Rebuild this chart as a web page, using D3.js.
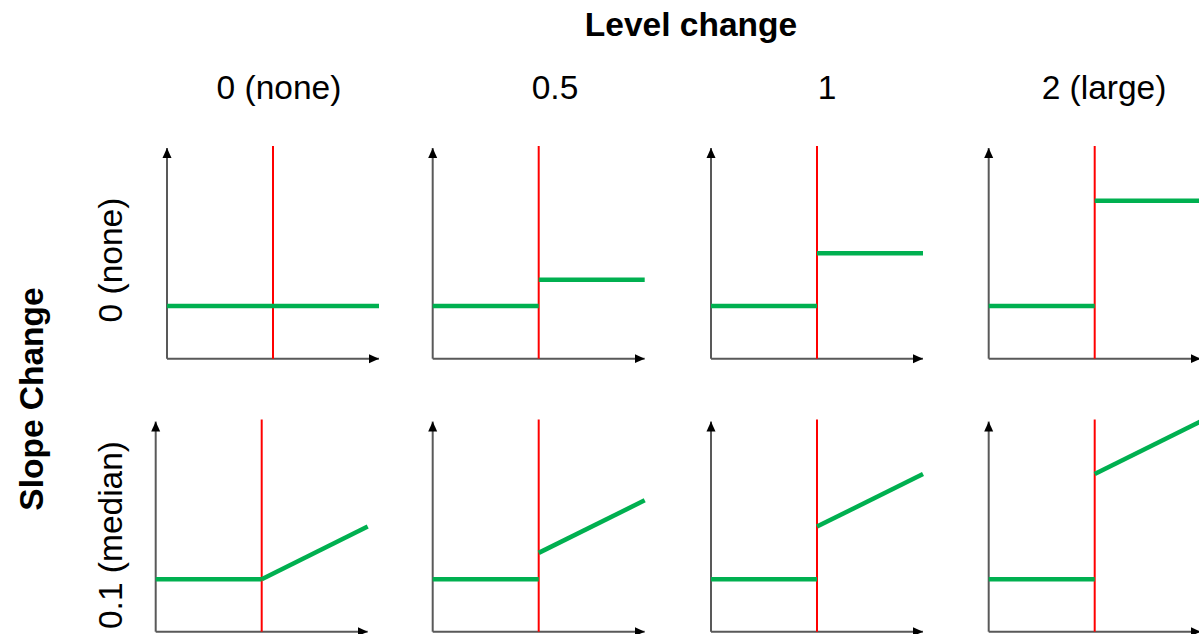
<!DOCTYPE html>
<html>
<head>
<meta charset="utf-8">
<script src="https://cdn.jsdelivr.net/npm/d3@7"></script>
<style>
  html, body { margin: 0; padding: 0; background: #fff; }
  svg { display: block; font-family: "Liberation Sans", Arial, sans-serif; }
</style>
</head>
<body>
<svg id="chart" width="1199" height="634"></svg>
<script>
// ---- data ----
const levelChanges = [0, 0.5, 1, 2];
const levelLabels = ["0 (none)", "0.5", "1", "2 (large)"];
const slopeChanges = [0, 0.1];
const slopeLabels = ["0 (none)", "0.1 (median)"];
const baselineLevel = 1;
const interventionTime = 10;
const timeDomain = [0, 20];
const valueDomain = [0, 4];
const colTitle = "Level change";
const rowTitle = "Slope Change";

// ---- layout ----
const W = 1199, H = 634;
const panelW = 212;
const rowAxisY = [358.7, 631.7];   // x-axis position per row
const rowTopY = [148, 421.5];      // y-axis arrow tip per row
const colX0 = [[167, 432.7, 711, 988.7], [155.7, 432.7, 711, 988.7]];
const colLabelX = [279, 555, 827, 1104];
const rowLabelY = [260, 535];

const svg = d3.select("#chart");
const defs = svg.append("defs");
defs.append("marker")
  .attr("id", "arrow")
  .attr("viewBox", "0 0 10 10")
  .attr("refX", 10).attr("refY", 5)
  .attr("markerWidth", 10).attr("markerHeight", 10)
  .attr("markerUnits", "userSpaceOnUse")
  .attr("orient", "auto")
  .append("path").attr("d", "M0,0.5 L10,5 L0,9.5 Z").attr("fill", "#000");

// titles
svg.append("text")
  .attr("x", 691).attr("y", 36)
  .attr("text-anchor", "middle")
  .attr("font-size", 33.5).attr("font-weight", "bold")
  .text(colTitle);

levelLabels.forEach((lab, i) => {
  svg.append("text")
    .attr("x", colLabelX[i]).attr("y", 99)
    .attr("text-anchor", "middle")
    .attr("font-size", 33.5)
    .text(lab);
});

svg.append("text")
  .attr("transform", "translate(43,399) rotate(-90)")
  .attr("text-anchor", "middle")
  .attr("font-size", 33.5).attr("font-weight", "bold")
  .text(rowTitle);

slopeLabels.forEach((lab, r) => {
  svg.append("text")
    .attr("transform", `translate(122,${rowLabelY[r]}) rotate(-90)`)
    .attr("text-anchor", "middle")
    .attr("font-size", 33.5)
    .text(lab);
});

const line = d3.line();

slopeChanges.forEach((slope, r) => {
  levelChanges.forEach((level, c) => {
    const x0 = colX0[r][c];
    const x = d3.scaleLinear().domain(timeDomain).range([x0, x0 + panelW]);
    const y = d3.scaleLinear().domain(valueDomain).range([rowAxisY[r], rowTopY[r]]);
    const g = svg.append("g");

    // axes
    g.append("line")
      .attr("x1", x(timeDomain[0])).attr("y1", y(valueDomain[0]))
      .attr("x2", x(timeDomain[1])).attr("y2", y(valueDomain[0]))
      .attr("stroke", "#595959").attr("stroke-width", 2)
      .attr("marker-end", "url(#arrow)");
    g.append("line")
      .attr("x1", x(timeDomain[0])).attr("y1", y(valueDomain[0]))
      .attr("x2", x(timeDomain[0])).attr("y2", y(valueDomain[1]))
      .attr("stroke", "#595959").attr("stroke-width", 2)
      .attr("marker-end", "url(#arrow)");

    // intervention line
    g.append("line")
      .attr("x1", x(interventionTime)).attr("y1", y(valueDomain[0]))
      .attr("x2", x(interventionTime)).attr("y2", y(valueDomain[1]) - 2)
      .attr("stroke", "#ff0000").attr("stroke-width", 2);

    // pre and post segments
    const pre = [[timeDomain[0], baselineLevel], [interventionTime, baselineLevel]];
    const post = [
      [interventionTime, baselineLevel + level],
      [timeDomain[1], baselineLevel + level + slope * (timeDomain[1] - interventionTime)]
    ];
    [pre, post].forEach(seg => {
      g.append("path")
        .attr("d", line(seg.map(d => [x(d[0]), y(d[1])])))
        .attr("fill", "none")
        .attr("stroke", "#00b050").attr("stroke-width", 4.5);
    });
  });
});
</script>
</body>
</html>
